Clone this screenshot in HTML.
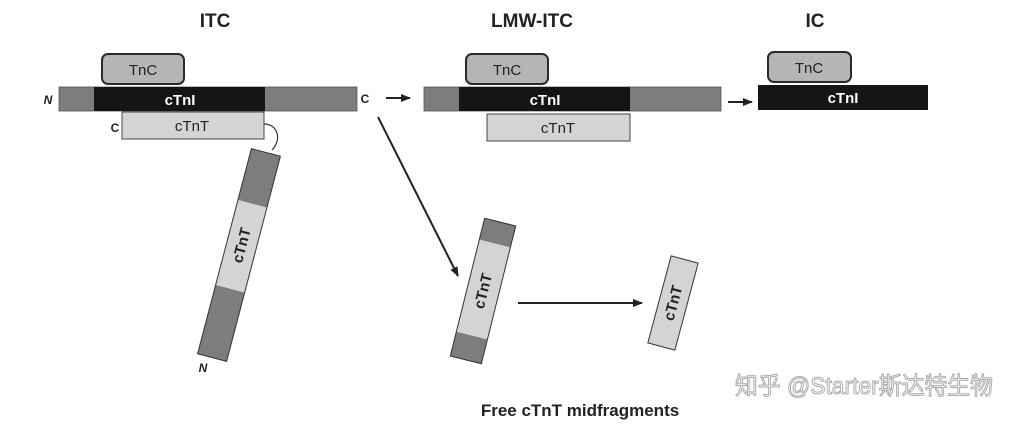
<!DOCTYPE html>
<html><head><meta charset="utf-8"><style>
html,body{margin:0;padding:0;background:#fff;width:1021px;height:425px;overflow:hidden}
svg text{font-family:"Liberation Sans","Noto Sans CJK SC",sans-serif}
</style></head><body>
<svg width="1021" height="425" viewBox="0 0 1021 425" xmlns="http://www.w3.org/2000/svg">
<defs><marker id="ah" markerWidth="10" markerHeight="8" refX="9" refY="4" orient="auto" markerUnits="userSpaceOnUse"><path d="M0,0 L10,4 L0,8 Z" fill="#222"/></marker></defs>
<g font-weight="bold" fill="#222" text-anchor="middle">
<text x="215" y="27" font-size="19">ITC</text>
<text x="532" y="27" font-size="19">LMW-ITC</text>
<text x="815" y="27" font-size="19">IC</text>
</g>
<!-- ITC -->
<rect x="102" y="54" width="82" height="30" rx="6" fill="#b5b5b5" stroke="#2a2a2a" stroke-width="2"/>
<text x="143" y="75" font-size="15" text-anchor="middle" fill="#222">TnC</text>
<rect x="59" y="87" width="298" height="24" fill="#7d7d7d" stroke="#555" stroke-width="0.8"/>
<rect x="94" y="87" width="171" height="24" fill="#151515"/>
<text x="180" y="105" font-size="15" font-weight="bold" text-anchor="middle" fill="#fff">cTnI</text>
<rect x="122" y="112" width="142" height="27" fill="#d4d4d4" stroke="#444" stroke-width="1"/>
<text x="192" y="131" font-size="15" text-anchor="middle" fill="#222">cTnT</text>
<text x="48" y="104" font-size="12" font-weight="bold" font-style="italic" fill="#222" text-anchor="middle">N</text>
<text x="115" y="132" font-size="12" font-weight="bold" fill="#222" text-anchor="middle">C</text>
<text x="365" y="103" font-size="12" font-weight="bold" fill="#222" text-anchor="middle">C</text>
<path d="M264,124 C278,124 282,140 272,150" fill="none" stroke="#333" stroke-width="1.2"/>
<g transform="translate(239,255) rotate(14.7)">
<rect x="-15" y="-106" width="30" height="212" fill="#7d7d7d"/>
<rect x="-15" y="-53" width="30" height="88" fill="#d4d4d4"/>
<rect x="-15" y="-106" width="30" height="212" fill="none" stroke="#333" stroke-width="1"/>
<text transform="translate(0,-10) rotate(-90)" x="0" y="5" font-size="15" font-weight="bold" text-anchor="middle" fill="#222">cTnT</text>
</g>
<text x="203" y="372" font-size="12" font-weight="bold" font-style="italic" fill="#222" text-anchor="middle">N</text>
<!-- arrows -->
<line x1="386" y1="98" x2="410" y2="98" stroke="#222" stroke-width="2" marker-end="url(#ah)"/>
<line x1="728" y1="102" x2="752" y2="102" stroke="#222" stroke-width="2" marker-end="url(#ah)"/>
<line x1="378" y1="117" x2="458" y2="276" stroke="#222" stroke-width="2" marker-end="url(#ah)"/>
<line x1="518" y1="303" x2="642" y2="303" stroke="#222" stroke-width="2" marker-end="url(#ah)"/>
<!-- LMW-ITC -->
<rect x="466" y="54" width="82" height="30" rx="6" fill="#b5b5b5" stroke="#2a2a2a" stroke-width="2"/>
<text x="507" y="75" font-size="15" text-anchor="middle" fill="#222">TnC</text>
<rect x="424" y="87" width="297" height="24" fill="#7d7d7d" stroke="#555" stroke-width="0.8"/>
<rect x="459" y="87" width="171" height="24" fill="#151515"/>
<text x="545" y="105" font-size="15" font-weight="bold" text-anchor="middle" fill="#fff">cTnI</text>
<rect x="487" y="114" width="143" height="27" fill="#d4d4d4" stroke="#444" stroke-width="1"/>
<text x="558" y="133" font-size="15" text-anchor="middle" fill="#222">cTnT</text>
<!-- IC -->
<rect x="768" y="52" width="83" height="30" rx="6" fill="#b5b5b5" stroke="#2a2a2a" stroke-width="2"/>
<text x="809" y="73" font-size="15" text-anchor="middle" fill="#222">TnC</text>
<rect x="758" y="85" width="170" height="25" fill="#151515"/>
<text x="843" y="103" font-size="15" font-weight="bold" text-anchor="middle" fill="#fff">cTnI</text>
<!-- middle fragment -->
<g transform="translate(483,291) rotate(14)">
<rect x="-16" y="-71" width="32" height="142" fill="#d4d4d4"/>
<rect x="-16" y="-71" width="32" height="22" fill="#7d7d7d"/>
<rect x="-16" y="46" width="32" height="25" fill="#7d7d7d"/>
<rect x="-16" y="-71" width="32" height="142" fill="none" stroke="#333" stroke-width="1"/>
<text transform="rotate(-90)" x="0" y="5" font-size="15" font-weight="bold" text-anchor="middle" fill="#222">cTnT</text>
</g>
<g transform="translate(673,303) rotate(15)">
<rect x="-14" y="-45" width="28" height="90" fill="#d4d4d4" stroke="#333" stroke-width="1"/>
<text transform="rotate(-90)" x="0" y="5" font-size="15" font-weight="bold" text-anchor="middle" fill="#222">cTnT</text>
</g>
<text x="580" y="416" font-size="17" font-weight="bold" text-anchor="middle" fill="#222">Free cTnT midfragments</text>
<text x="735" y="394" font-size="24" fill="#fff" stroke="#aaa" stroke-width="1" textLength="258" lengthAdjust="spacingAndGlyphs">知乎 @Starter斯达特生物</text>
</svg>
</body></html>
